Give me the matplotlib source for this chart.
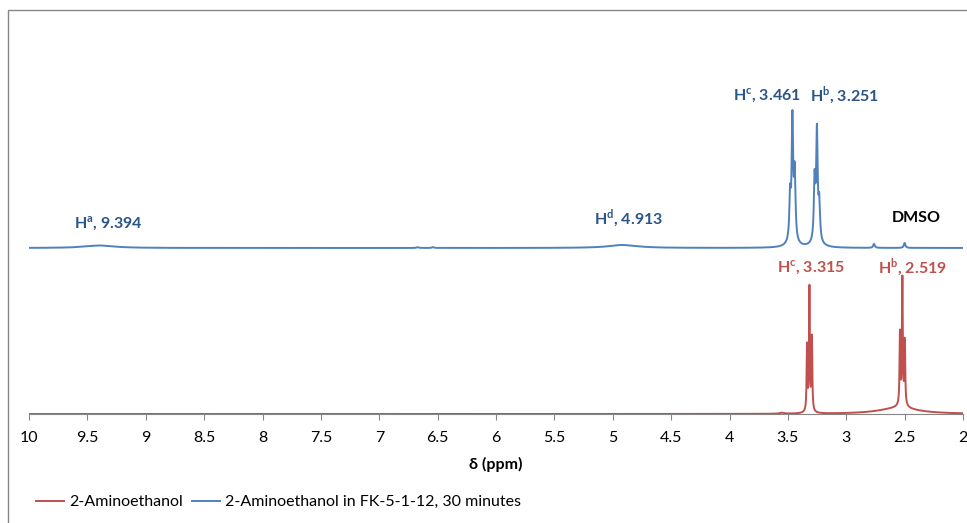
import numpy as np
import matplotlib
matplotlib.use('Agg')
import matplotlib.pyplot as plt
from matplotlib.patches import Rectangle

plt.rcParams['font.family'] = ['Lato', 'DejaVu Sans']
plt.rcParams['mathtext.fontset'] = 'custom'
plt.rcParams['mathtext.rm'] = 'Lato'
plt.rcParams['mathtext.bf'] = 'Lato:bold'

# chemical shift axis (ppm), plotted high -> low
ppm_min, ppm_max = 2.0, 10.0
ppm_ticks = [10, 9.5, 9, 8.5, 8, 7.5, 7, 6.5, 6, 5.5, 5, 4.5, 4, 3.5, 3, 2.5, 2]

# peak tables: centre (ppm), height (a.u.), half width (ppm)
# 2-Aminoethanol (neat reference)
ref_pos = [3.336, 3.315, 3.294, 3.315, 3.55,
           2.540, 2.519, 2.498, 2.519, 2.55]
ref_height = [65, 122, 73, 2, 1,
              71, 124, 63, 4, 6]
ref_width = [0.004, 0.004, 0.004, 0.03, 0.02,
             0.004, 0.004, 0.004, 0.03, 0.2]

# 2-Aminoethanol in FK-5-1-12 after 30 minutes
mix_pos = [3.481, 3.461, 3.441, 3.461,
           3.271, 3.251, 3.231, 3.251,
           9.394, 4.913, 6.67, 6.54, 2.762, 2.50]
mix_height = [43, 120, 66, 4,
              60, 108, 36, 4,
              2.5, 3, 0.8, 0.8, 4, 5]
mix_width = [0.0075, 0.0075, 0.0075, 0.05,
             0.0075, 0.0075, 0.0075, 0.05,
             0.15, 0.15, 0.01, 0.01, 0.008, 0.008]
mix_offset = 166

# annotation text: label, x (ppm), y (px from top)
mix_labels = [("H$^{\\mathbf{a}}$, 9.394", 9.323, 224),
              ("H$^{\\mathbf{d}}$, 4.913", 4.861, 219),
              ("H$^{\\mathbf{c}}$, 3.461", 3.683, 96),
              ("H$^{\\mathbf{b}}$, 3.251", 3.019, 96)]
ref_labels = [("H$^{\\mathbf{c}}$, 3.315", 3.302, 268),
              ("H$^{\\mathbf{b}}$, 2.519", 2.437, 268)]
series_names = ["2-Aminoethanol", "2-Aminoethanol in FK-5-1-12, 30 minutes"]

RED = '#C0504D'
BLUE = '#4F81BD'
BLUE_TXT = '#295587'
GRAY = '#868686'

W, H = 967, 523


def spectrum(x, pos, height, width):
    y = np.zeros_like(x)
    for p, h, w in zip(pos, height, width):
        y += h / (1 + ((x - p) / w) ** 2)
    return y


x = np.linspace(ppm_min, ppm_max, 40001)
y_ref = spectrum(x, ref_pos, ref_height, ref_width)
y_mix = spectrum(x, mix_pos, mix_height, mix_width) + mix_offset

fig = plt.figure(figsize=(W / 100, H / 100), dpi=100)
fig.patch.set_facecolor('white')

# chart border
fig.add_artist(Rectangle((8 / W, -0.1), 1.2, (H - 10) / H + 0.1,
                         transform=fig.transFigure, fill=False,
                         edgecolor=GRAY, linewidth=1.0))

ax = fig.add_axes([29 / W, (H - 414) / H, 934 / W, 394 / H])
ax.plot(x, y_ref, color=RED, lw=1.4, zorder=3, label=series_names[0])
ax.plot(x, y_mix, color=BLUE, lw=1.4, zorder=3, label=series_names[1])

ax.set_xlim(ppm_max, ppm_min)
ax.set_ylim(0, 394)
ax.set_xticks(ppm_ticks)
ax.set_xticklabels([f"{t:g}" for t in ppm_ticks])
ax.set_yticks([])
for s in ['top', 'right', 'left']:
    ax.spines[s].set_visible(False)
ax.spines['bottom'].set_color(GRAY)
ax.spines['bottom'].set_linewidth(0.8)
ax.tick_params(axis='x', direction='out', length=4, width=0.8, color=GRAY,
               labelsize=11.5, pad=8, labelcolor='black')
ax.set_xlabel("δ (ppm)", fontsize=11.5, fontweight='bold', labelpad=9)

for txt, xp, yp in mix_labels:
    ax.text(xp, 414 - yp, txt, color=BLUE_TXT, fontsize=11.5,
            fontweight='bold', ha='center', va='center')
for txt, xp, yp in ref_labels:
    ax.text(xp, 414 - yp, txt, color=RED, fontsize=11.5,
            fontweight='bold', ha='center', va='center')
ax.text(2.403, 414 - 218, "DMSO", color='black', fontsize=11.5,
        fontweight='bold', ha='center', va='center')

fig.legend(loc='center left', bbox_to_anchor=(30 / W, (H - 502) / H),
           ncol=2, frameon=False, fontsize=11.5, handlelength=1.75,
           handletextpad=0.3, columnspacing=0.6, borderaxespad=0)

fig.savefig('out.png', dpi=100)
